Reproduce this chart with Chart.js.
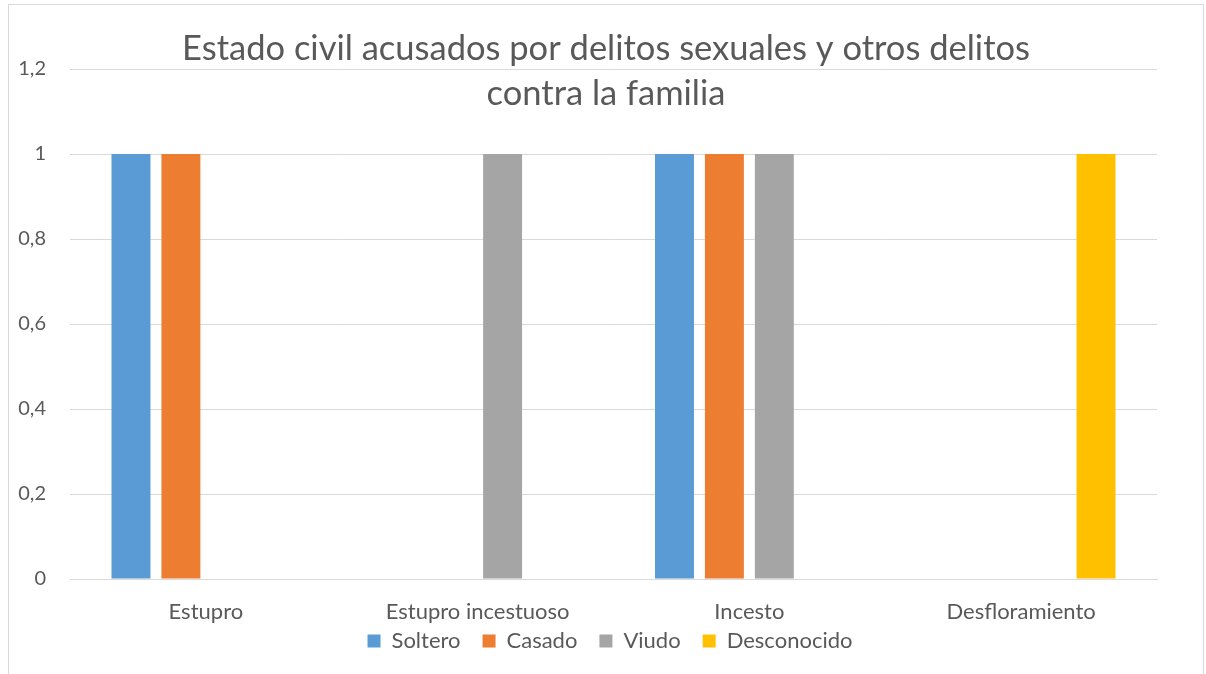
<!DOCTYPE html>
<html>
<head>
<meta charset="utf-8">
<script src="https://cdn.jsdelivr.net/npm/chart.js@4.4.1/dist/chart.umd.min.js"></script>
<style>
  html, body { margin: 0; padding: 0; background: #ffffff; }
  #wrap { position: relative; width: 1206px; height: 674px; overflow: hidden; }
  #frame { position: absolute; left: 8px; top: 4px; width: 1196px; height: 700px; border: 1px solid #D9D9D9; box-sizing: border-box; }
  canvas { position: absolute; left: 0; top: 0; }
</style>
</head>
<body>
<div id="wrap">
  <div id="frame"></div>
  <canvas id="c" width="1206" height="674"></canvas>
</div>
<script>
const titleLines = ["Estado civil acusados por delitos sexuales y otros delitos", "contra la familia"];
const categories = ["Estupro", "Estupro incestuoso", "Incesto", "Desfloramiento"];
const soltero = [1, 0, 1, 0];
const casado = [1, 0, 1, 0];
const viudo = [0, 1, 1, 0];
const desconocido = [0, 0, 0, 1];
const seriesNames = ["Soltero", "Casado", "Viudo", "Desconocido"];
const seriesColors = ["#5B9BD5", "#ED7D31", "#A5A5A5", "#FFC000"];

const FONT = "Lato, 'Liberation Sans', sans-serif";
const TEXT = "#595959";

const titlePlugin = {
  id: 'overlayTitle',
  afterDraw(chart) {
    const ctx = chart.ctx;
    ctx.save();
    ctx.fillStyle = TEXT;
    ctx.font = "34.5px " + FONT;
    ctx.textAlign = 'center';
    ctx.textBaseline = 'alphabetic';
    const cx = 606;
    ctx.fillText(titleLines[0], cx, 60);
    ctx.fillText(titleLines[1], cx, 105);
    ctx.restore();
  }
};

const values = [soltero, casado, viudo, desconocido];
new Chart(document.getElementById('c'), {
  type: 'bar',
  data: {
    labels: categories,
    datasets: seriesNames.map((n, i) => ({
      label: n,
      data: values[i],
      backgroundColor: seriesColors[i],
      borderWidth: 0,
      categoryPercentage: 0.735,
      barPercentage: 0.78
    }))
  },
  options: {
    responsive: false,
    animation: false,
    layout: { padding: { left: 63, right: 49, top: 69, bottom: 12 } },
    plugins: {
      title: { display: false },
      tooltip: { enabled: false },
      legend: {
        position: 'bottom',
        labels: {
          boxWidth: 13, boxHeight: 13, padding: 22,
          color: TEXT,
          font: { family: FONT, size: 22 }
        }
      }
    },
    scales: {
      x: {
        grid: { display: false, drawTicks: false },
        border: { display: true, color: "#D9D9D9", width: 1 },
        ticks: { color: TEXT, font: { family: FONT, size: 22 }, padding: 20, maxRotation: 0 },
        afterFit(s) { s.height = 29; s._computeLabelArea = () => undefined; }
      },
      y: {
        min: 0, max: 1.2,
        grid: { color: "#D9D9D9", drawTicks: false },
        border: { display: false },
        ticks: {
          stepSize: 0.2, color: TEXT, padding: 24,
          font: { family: FONT, size: 20 },
          callback: v => (Math.round(v * 10) / 10).toString().replace('.', ',')
        },
        afterFit(s) { s.width = 7; s._computeLabelArea = () => undefined; }
      }
    }
  },
  plugins: [titlePlugin]
});
</script>
</body>
</html>
